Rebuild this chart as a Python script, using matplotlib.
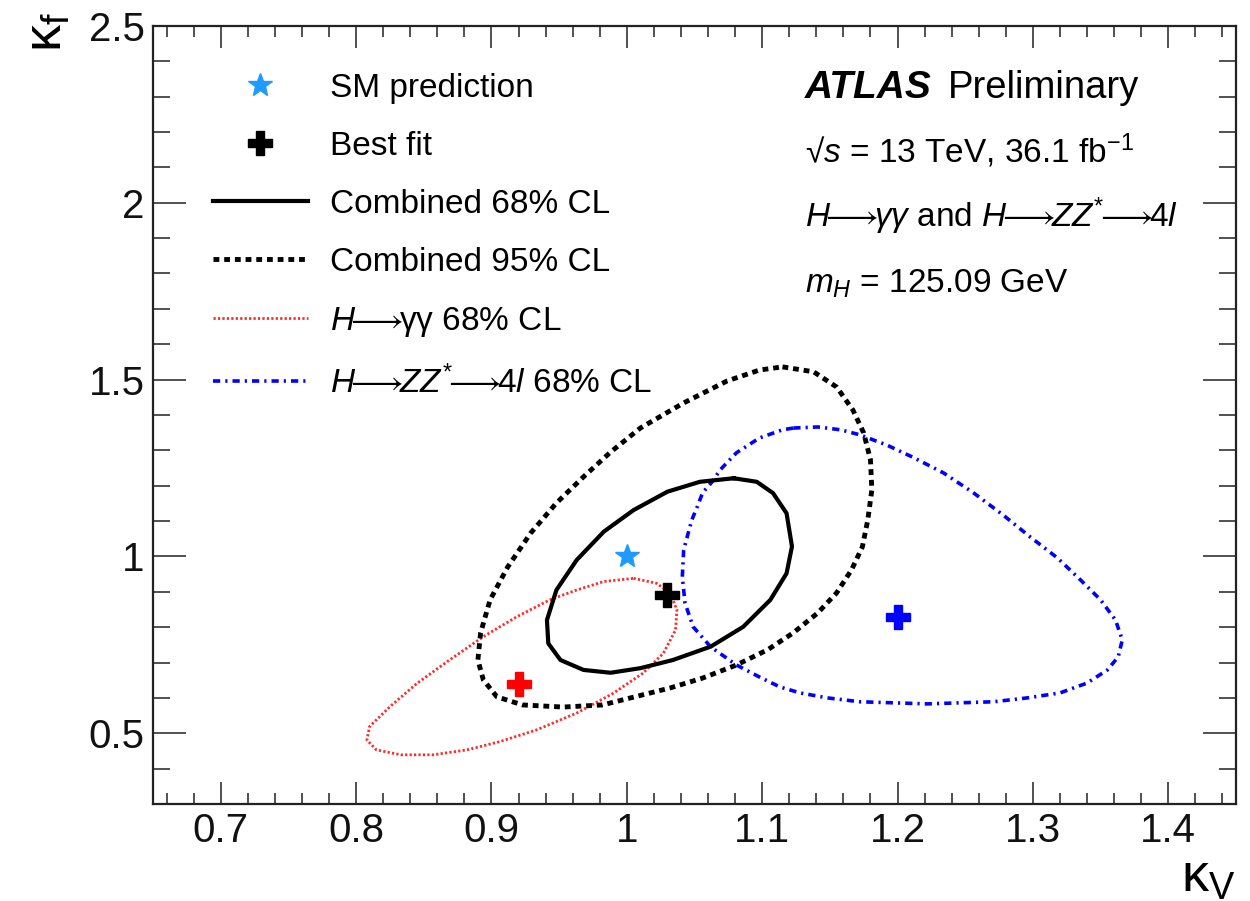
import numpy as np
import matplotlib
matplotlib.use("Agg")
from matplotlib import pyplot as plt
from matplotlib.lines import Line2D
from matplotlib.ticker import MultipleLocator, FixedLocator

plt.rcParams["font.family"] = ["Liberation Sans", "DejaVu Sans"]
plt.rcParams["mathtext.fontset"] = "custom"
plt.rcParams["mathtext.rm"] = "Liberation Sans"
plt.rcParams["mathtext.it"] = "Liberation Sans:italic"
plt.rcParams["mathtext.bf"] = "Liberation Sans:bold"

# 轮廓点 (kappa_V, kappa_f)
comb68_kv = [1.079, 1.096, 1.108, 1.118, 1.122, 1.118, 1.106, 1.086, 1.062, 1.034,
             1.010, 0.988, 0.968, 0.951, 0.942, 0.941, 0.948, 0.963, 0.983, 1.005,
             1.030, 1.054]
comb68_kf = [1.221, 1.211, 1.179, 1.122, 1.028, 0.952, 0.877, 0.801, 0.745, 0.707,
             0.684, 0.671, 0.679, 0.707, 0.754, 0.820, 0.905, 0.990, 1.070, 1.131,
             1.183, 1.211]

comb95_kv = [1.115, 1.138, 1.155, 1.167, 1.175, 1.180, 1.181, 1.178, 1.174, 1.166,
             1.155, 1.141, 1.123, 1.104, 1.081, 1.056, 1.032, 0.982, 0.953, 0.923,
             0.904, 0.894, 0.890, 0.892, 0.899, 0.912, 0.929, 0.948, 0.968, 0.988,
             1.010, 1.042, 1.074, 1.098]
comb95_kf = [1.536, 1.522, 1.479, 1.414, 1.349, 1.273, 1.188, 1.103, 1.027, 0.962,
             0.897, 0.840, 0.784, 0.736, 0.693, 0.656, 0.628, 0.580, 0.574, 0.580,
             0.603, 0.651, 0.707, 0.784, 0.877, 0.970, 1.066, 1.151, 1.225, 1.295,
             1.363, 1.434, 1.496, 1.527]

yy68_kv = [1.005, 1.022, 1.032, 1.037, 1.036, 1.027, 1.012, 0.990, 0.963, 0.933,
           0.906, 0.882, 0.857, 0.833, 0.815, 0.808, 0.810, 0.825, 0.845, 0.869,
           0.894, 0.919, 0.943, 0.963, 0.983]
yy68_kf = [0.938, 0.924, 0.896, 0.849, 0.792, 0.726, 0.670, 0.613, 0.557, 0.509,
           0.476, 0.453, 0.439, 0.439, 0.453, 0.481, 0.519, 0.575, 0.641, 0.707,
           0.773, 0.830, 0.877, 0.905, 0.929]

zz68_kv = [1.123, 1.141, 1.158, 1.172, 1.192, 1.211, 1.234, 1.256, 1.278, 1.298,
           1.318, 1.335, 1.350, 1.361, 1.366, 1.363, 1.355, 1.340, 1.320, 1.296,
           1.271, 1.246, 1.222, 1.197, 1.172, 1.148, 1.128, 1.113, 1.098, 1.081,
           1.062, 1.049, 1.043, 1.041, 1.042, 1.045, 1.048, 1.052, 1.056, 1.063,
           1.069, 1.081, 1.098, 1.115]
zz68_kf = [1.363, 1.366, 1.358, 1.344, 1.315, 1.281, 1.236, 1.180, 1.117, 1.055,
           0.996, 0.934, 0.877, 0.820, 0.764, 0.716, 0.679, 0.642, 0.614, 0.600,
           0.589, 0.586, 0.583, 0.586, 0.589, 0.600, 0.614, 0.631, 0.659, 0.693,
           0.744, 0.801, 0.868, 0.942, 1.018, 1.061, 1.103, 1.140, 1.180, 1.211,
           1.245, 1.293, 1.335, 1.358]

# 最佳拟合点与标准模型预测
sm_point = (1.0, 1.0)
best_comb = (1.03, 0.89)
best_yy = (0.92, 0.64)
best_zz = (1.20, 0.83)

x_ticks = [0.7, 0.8, 0.9, 1.0, 1.1, 1.2, 1.3, 1.4]
x_ticklabels = ["0.7", "0.8", "0.9", "1", "1.1", "1.2", "1.3", "1.4"]
y_ticks = [0.5, 1.0, 1.5, 2.0, 2.5]
y_ticklabels = ["0.5", "1", "1.5", "2", "2.5"]


def closed(a):
    return np.append(a, a[0])


star_color = "#1f9bff"
axis_color = "#222222"
red_ls = (0, (0.8, 0.8))
blue_ls = (0, (2.0, 1.4, 0.6, 1.4))
dash_ls = (0, (1.2, 1.0))
arrow = r"\!\!\longrightarrow\!\!"

fig = plt.figure(figsize=(12.5, 9.01), dpi=100)
ax = fig.add_axes([0.1224, 0.1077, 0.8664, 0.8635])

# 轮廓线
ax.plot(closed(yy68_kv), closed(yy68_kf), color="#ff2a2a", lw=2.0, linestyle=red_ls)
ax.plot(closed(zz68_kv), closed(zz68_kf), color="#0000ff", lw=2.6, linestyle=blue_ls)
ax.plot(closed(comb95_kv), closed(comb95_kf), color="black", lw=3.5, linestyle=dash_ls)
ax.plot(closed(comb68_kv), closed(comb68_kf), color="black", lw=3.0)

# 点
ax.plot(*best_yy, marker="P", color="#ff0000", ms=17, ls="none")
ax.plot(*best_zz, marker="P", color="#0000ff", ms=17, ls="none")
ax.plot(*best_comb, marker="P", color="black", ms=17, ls="none")
ax.plot(*sm_point, marker="*", color=star_color, ms=18, ls="none")

# 坐标轴
ax.set_xlim(0.65, 1.45)
ax.set_ylim(0.3, 2.5)
ax.xaxis.set_major_locator(FixedLocator(x_ticks))
ax.set_xticklabels(x_ticklabels)
ax.xaxis.set_minor_locator(MultipleLocator(0.02))
ax.yaxis.set_major_locator(FixedLocator(y_ticks))
ax.set_yticklabels(y_ticklabels)
ax.yaxis.set_minor_locator(MultipleLocator(0.1))

ax.tick_params(axis="both", which="both", direction="in", top=True, right=True,
               color=axis_color, width=1.1, labelsize=29, labelcolor="#111111")
ax.tick_params(axis="x", which="major", length=16, pad=6)
ax.tick_params(axis="x", which="minor", length=8)
ax.tick_params(axis="y", which="major", length=24, pad=6)
ax.tick_params(axis="y", which="minor", length=12)
for sp in ax.spines.values():
    sp.set_linewidth(1.6)
    sp.set_color(axis_color)

ax.text(1.0, -0.127, r"$\mathrm{\kappa}_{\mathrm{V}}$", transform=ax.transAxes,
        ha="right", va="bottom", fontsize=39)
ax.text(-0.097, 1.018, r"$\mathrm{\kappa}_{\mathrm{f}}$", transform=ax.transAxes,
        ha="center", va="top", rotation=90, fontsize=39)

# 图例
handles = [
    Line2D([], [], marker="*", color=star_color, ms=18, ls="none"),
    Line2D([], [], marker="P", color="black", ms=17, ls="none"),
    Line2D([], [], color="black", lw=3.0),
    Line2D([], [], color="black", lw=3.5, linestyle=dash_ls),
    Line2D([], [], color="#ff2a2a", lw=2.0, linestyle=red_ls),
    Line2D([], [], color="#0000ff", lw=2.6, linestyle=blue_ls),
]
labels = [
    "SM prediction",
    "Best fit",
    "Combined 68% CL",
    "Combined 95% CL",
    r"$H" + arrow + r"\mathrm{\gamma\gamma}$ 68% CL",
    r"$H" + arrow + r"ZZ^{*}" + arrow + r"4l$ 68% CL",
]
ax.legend(handles, labels, loc="upper left", bbox_to_anchor=(0.0554, 0.94),
          frameon=False, fontsize=24, handlelength=2.85, handletextpad=0.66,
          labelspacing=0.81, borderpad=0, borderaxespad=0)

# 右上角说明文字
ax.text(0.602, 0.9075, "ATLAS", transform=ax.transAxes, fontsize=28,
        fontweight="bold", style="italic", va="baseline")
ax.text(0.734, 0.9075, "Preliminary", transform=ax.transAxes, fontsize=27.5,
        va="baseline")
ax.text(0.602, 0.824, "\u221a$s$ = 13 TeV, 36.1 fb$^{-1}$", transform=ax.transAxes,
        fontsize=24, va="baseline")
ax.text(0.602, 0.7416,
        r"$H" + arrow + r"\gamma\gamma$ and $H" + arrow + r"ZZ^{*}" + arrow + r"4l$",
        transform=ax.transAxes, fontsize=24, va="baseline")
ax.text(0.602, 0.657, r"$m_{H}$ = 125.09 GeV", transform=ax.transAxes,
        fontsize=24, va="baseline")

fig.savefig("out.png", dpi=100)
